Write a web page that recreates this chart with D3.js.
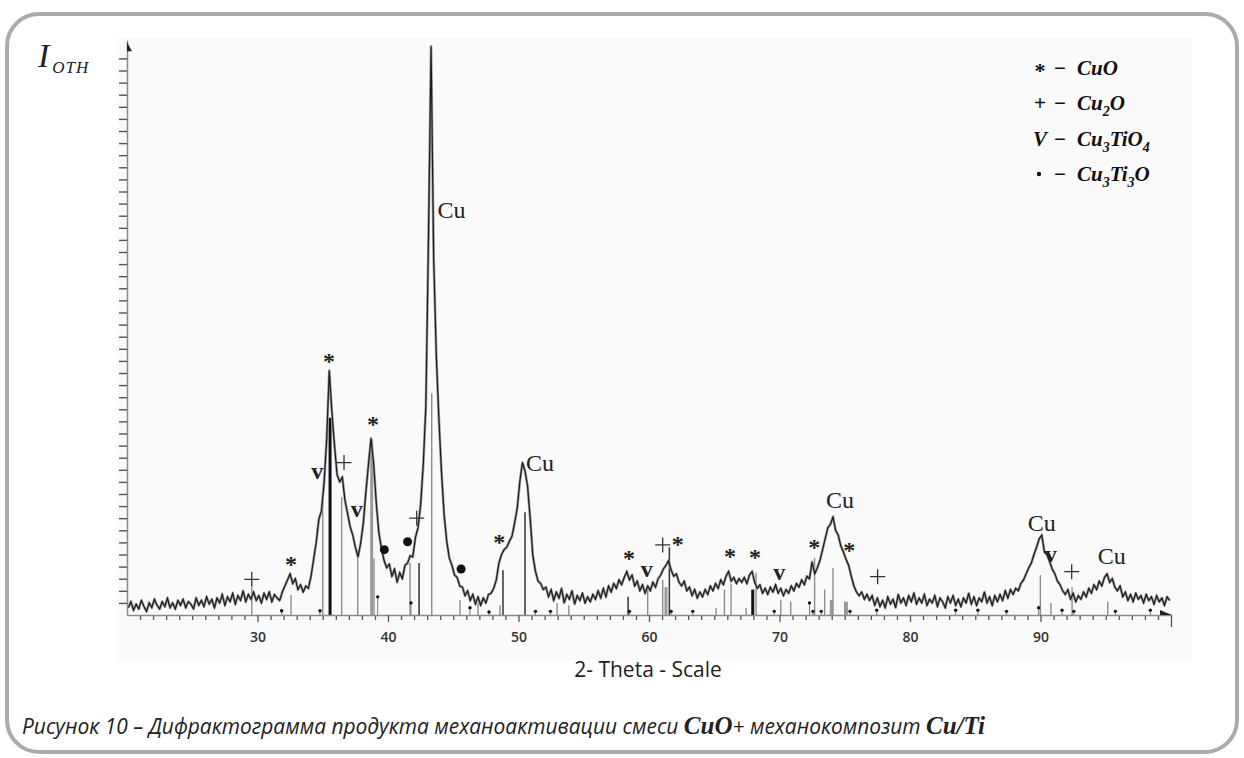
<!DOCTYPE html>
<html><head><meta charset="utf-8">
<script src="https://cdn.jsdelivr.net/npm/d3@7"></script>
<style>html,body{margin:0;padding:0;background:#fff;} svg{display:block;}</style>
</head><body>
<svg id="chart" width="1244" height="758"></svg>
<script>
// ---------- DATA ----------
const scanStart = 20.1, scanStep = 0.2;   // 2-theta scan, degrees
const intensity = [
// 20.1–29.9
0.6,1.1,0.4,0.9,0.5,1.2,0.7,0.3,1.0,0.6,
1.3,0.8,0.5,1.1,0.7,1.4,0.6,1.0,0.5,1.2,
0.8,1.3,0.6,1.1,0.9,0.5,1.4,0.8,1.2,0.7,
1.5,0.9,1.3,0.6,1.4,1.0,1.7,0.8,1.5,1.1,
1.8,0.9,1.6,1.2,2.0,1.1,1.7,1.3,1.9,1.2,
// 30.1–33.9
1.6,1.0,1.8,1.3,1.9,1.1,1.7,1.4,1.2,1.9,
2.4,2.9,3.4,2.6,3.0,2.1,2.5,1.9,2.4,2.2,
// 34.1–51.9
3.2,4.6,6.0,7.9,8.6,10.9,14.5,20.2,16.8,14.0,
11.6,11.0,11.4,9.5,8.4,7.3,6.6,5.6,4.8,5.9,
7.5,10.1,12.4,14.6,12.5,9.3,6.8,5.5,4.5,3.9,
4.2,3.2,3.8,2.7,3.5,3.0,4.1,4.3,4.9,4.8,
6.4,7.2,9.1,12.4,17.2,31.0,47.0,29.5,21.5,16.2,
11.8,8.3,6.1,4.7,4.1,3.3,3.1,2.4,2.3,1.6,
2.0,1.2,1.7,0.9,1.5,0.8,1.4,1.0,1.7,1.8,
2.2,2.9,4.3,5.0,5.4,5.6,6.1,6.5,7.6,8.8,
11.0,12.6,11.9,10.6,7.9,4.9,3.6,2.8,2.6,2.1,
// 52.1–57.9
2.3,1.5,2.1,1.2,1.9,1.4,2.2,1.0,1.7,1.3,
2.0,0.9,1.6,1.2,1.8,1.0,1.5,1.1,1.7,1.3,
2.0,1.4,2.2,1.5,2.4,1.9,2.6,2.2,2.9,2.5,
// 58.1–60.9
3.1,3.6,2.9,3.3,2.4,2.8,2.0,2.5,1.8,2.4,2.0,2.7,2.3,3.0,3.3,
// 61.1–64.9
3.8,4.1,4.5,3.7,3.2,3.4,2.7,2.4,2.8,2.0,
2.3,1.6,2.1,1.4,1.9,1.5,2.1,1.7,2.4,2.0,
// 65.1–68.9
2.6,2.2,2.9,2.5,3.2,3.6,2.8,3.1,2.6,3.0,
2.7,3.1,2.6,3.3,3.6,2.7,2.2,2.5,1.8,2.2,
// 69.1–72.9
1.7,2.3,1.9,2.5,1.8,2.2,1.6,2.1,1.8,2.4,
2.0,2.6,2.3,2.9,2.5,3.2,3.0,4.4,3.4,3.9,
// 73.1–76.9
4.5,5.4,6.3,7.2,7.5,8.1,7.0,6.6,5.7,5.2,
4.6,4.1,3.2,2.4,1.9,1.6,1.9,1.3,1.7,1.2,
// 77.1–87.9
1.6,0.8,1.4,0.7,1.2,0.6,1.5,0.9,1.3,0.6,
1.7,1.0,1.4,0.8,1.6,1.1,1.8,0.9,1.4,1.0,
1.7,0.8,1.3,1.0,1.6,0.7,1.4,1.1,0.6,1.5,
1.0,1.6,0.8,1.3,0.7,1.4,1.0,1.8,0.9,1.5,
0.8,1.4,1.1,1.9,1.0,1.5,0.8,1.6,1.1,1.7,
1.2,2.0,1.4,2.1,1.7,
// 88.1–92.9
2.2,2.0,2.6,2.9,3.4,3.9,4.3,5.0,5.6,6.3,
6.6,5.2,5.0,4.4,3.8,3.4,2.8,2.5,2.0,1.7,
2.1,1.3,1.8,1.1,1.6,
// 93.1–99.9
1.3,1.9,1.5,2.2,1.8,2.5,2.1,2.8,2.4,3.1,
3.4,2.7,3.0,2.3,2.0,2.4,1.5,1.9,1.2,1.7,
1.1,1.8,1.3,1.6,1.0,1.7,1.2,1.5,0.9,1.6,
1.1,1.4,0.8,1.5,1.2
];

// reference (stick) pattern: position, height, kind (g gray, G gray bold, b black, B black bold, d dotted)
const stickTheta  = [29.56,31.85,32.57,34.79,35.0,35.56,36.45,37.68,38.75,38.93,39.21,41.69,41.76,42.38,43.35,45.52,46.28,46.9,47.74,48.58,48.81,50.5,
                     51.3,52.45,52.96,53.86,58.4,58.5,59.9,61.05,61.3,61.56,61.7,63.35,65.14,65.78,66.29,67.44,67.95,68.2,69.6,70.1,70.86,72.3,72.56,72.69,73.2,73.46,73.97,74.1,75.0,75.13,75.4,77.45,
                     83.5,85.2,87.4,89.86,89.99,90.8,91.65,92.42,92.55,95.15,95.74,98.42];
const stickHeight = [2.3,0.35,1.65,0.35,9.3,16.3,9.75,5.1,14.5,4.7,1.5,4.3,1.0,4.3,18.3,1.24,0.6,1.0,0.25,0.8,3.7,8.5,
                     0.3,0.3,1.0,0.8,1.5,0.3,2.3,2.9,2.3,5.6,0.3,0.3,0.6,2.1,2.6,0.6,2.1,3.5,0.3,1.24,1.1,1.0,0.3,4.7,0.3,2.1,1.24,3.9,1.1,1.1,0.3,0.4,
                     0.4,0.4,0.3,0.6,3.3,1.0,0.4,2.3,0.3,1.1,0.3,0.4];
const stickKind   = ["g","d","g","d","g","B","g","g","G","g","d","g","d","b","g","g","d","g","d","g","b","b",
                     "d","d","g","g","b","d","g","g","G","b","d","d","g","g","g","g","B","g","d","g","g","d","d","g","d","g","G","g","g","G","d","d",
                     "d","d","d","d","g","g","d","g","d","g","d","d"];

// phase labels on peaks
const labelTheta  = [29.56,32.57,34.57,35.48,36.63,37.6,38.85,39.72,41.5,42.2,44.87,45.6,48.53,51.65,58.47,59.82,61.05,62.2,66.21,68.12,69.98,72.67,74.64,75.35,77.52,90.09,90.78,92.39,95.46];
const labelLevel  = [2.95,4.5,11.65,21.2,12.6,8.55,16.0,5.4,6.05,8.0,33.5,3.8,6.3,12.55,4.96,3.58,5.79,6.12,5.1,5.04,3.3,5.87,9.5,5.64,3.17,7.58,4.77,3.58,4.88];
const labelSymbol = ["+","*","v","*","+","v","*","●","●","+","Cu","●","*","Cu","*","v","+","*","*","*","v","*","Cu","*","+","Cu","v","+","Cu"];

const xTickValues = [30,40,50,60,70,80,90];
const legendSymbols  = ["*","+","V","·"];
const legendFormulas = [
  [["CuO",0]],
  [["Cu",0],["2",1],["O",0]],
  [["Cu",0],["3",1],["TiO",0],["4",1]],
  [["Cu",0],["3",1],["Ti",0],["3",1],["O",0]]
];
const xTitle = "2- Theta - Scale";
const captionParts = [
  ["Рисунок 10 – Дифрактограмма продукта механоактивации смеси ","sans"],
  ["CuO","serif"],
  ["+ механокомпозит ","sans"],
  ["Cu/Ti","serif"]
];

// ---------- DRAW ----------
const svg = d3.select("#chart");
const SERIF = "'Liberation Serif','Times New Roman',serif";
const SANS  = "'Open Sans','Noto Sans',sans-serif";

svg.append("rect").attr("x",7).attr("y",14).attr("width",1230).attr("height",738).attr("rx",32)
  .attr("fill","#fff").attr("stroke","#a9abae").attr("stroke-width",4);
svg.append("rect").attr("x",117).attr("y",38).attr("width",1075).attr("height",622).attr("fill","#fafafa");

const x = d3.scaleLinear().domain([20,100]).range([127,1171]);
const y = d3.scaleLinear().domain([0,47.5]).range([615,40.25]);

// sticks
const sticks = stickTheta.map((t,i)=>({t, h:stickHeight[i], k:stickKind[i]}));
const stickStyle = {g:{c:"#8d8d8d",w:1.4}, G:{c:"#9a9a9a",w:3}, b:{c:"#333",w:1.5}, B:{c:"#111",w:3}, d:{c:"#777",w:1}};
svg.append("g").selectAll("line").data(sticks).join("line")
  .attr("x1",d=>x(d.t)).attr("x2",d=>x(d.t)).attr("y1",y(0)).attr("y2",d=>y(d.h))
  .attr("stroke",d=>stickStyle[d.k].c).attr("stroke-width",d=>stickStyle[d.k].w);
svg.append("g").selectAll("circle").data(sticks.filter(d=>d.k==="d")).join("circle")
  .attr("cx",d=>x(d.t)).attr("cy",d=>y(d.h)).attr("r",1.7).attr("fill","#111");

// scan
const scan = intensity.map((v,i)=>({t: scanStart + i*scanStep, v}));
const scanLine = d3.line().x(d=>x(d.t)).y(d=>y(d.v));
svg.append("path").datum(scan).attr("d", scanLine)
  .attr("fill","none").attr("stroke","#9a9a9a").attr("stroke-width",2.6).attr("stroke-linejoin","round");
svg.append("path").datum(scan).attr("d", scanLine)
  .attr("fill","none").attr("stroke","#1c1c1c").attr("stroke-width",1.2);

// y axis
const gy = svg.append("g").attr("transform",`translate(${x(20)},0)`)
  .call(d3.axisLeft(y).tickValues(d3.range(1,47)).tickSize(8).tickSizeOuter(0).tickFormat(""));
gy.select(".domain").attr("stroke","#8a8a8a").attr("stroke-width",1.5);
gy.selectAll(".tick line").attr("stroke","#555").attr("stroke-width",1.4);

// x axis
const gxm = svg.append("g").attr("transform",`translate(0,${y(0)})`)
  .call(d3.axisBottom(x).tickValues(d3.range(21,100).filter(v=>v%10!==0)).tickSize(5).tickSizeOuter(0).tickFormat(""));
gxm.select(".domain").remove();
const gxe = svg.append("g").attr("transform",`translate(0,${y(0)})`)
  .call(d3.axisBottom(x).tickValues([100]).tickSize(12).tickSizeOuter(0).tickFormat(""));
gxe.select(".domain").remove();
const gx = svg.append("g").attr("transform",`translate(0,${y(0)})`)
  .call(d3.axisBottom(x).tickValues(xTickValues).tickSize(7).tickSizeOuter(0).tickPadding(10).tickFormat(d3.format("d")));
gx.select(".domain").attr("stroke","#8a8a8a").attr("stroke-width",1.5);
[gxm,gxe,gx].forEach(g=>g.selectAll(".tick line").attr("stroke","#555").attr("stroke-width",1.3));
gx.selectAll(".tick text").attr("font-family",SANS).attr("font-size",14).attr("font-weight",600).attr("fill","#333");

// arrows
svg.append("path").attr("d",`M${x(20)},${y(47.5)+2} L${x(20)+5},${y(47.5)+11} L${x(20)},${y(47.5)+11} Z`).attr("fill","#222");
svg.append("path").attr("d",`M${x(100)+1},${y(0)} L${x(100)-11},${y(0)-5} L${x(100)-11},${y(0)} Z`).attr("fill","#222");

// peak labels
const symStyle = {
  "*": {size:24, weight:"bold", off:11, fill:"#222"},
  "v": {size:24, weight:"bold", off:5, fill:"#222"},
  "Cu":{size:24, weight:"normal", off:8, fill:"#222"}
};
const labels = labelTheta.map((t,i)=>({t, v:labelLevel[i], s:labelSymbol[i]}));
const gl = svg.append("g");
gl.selectAll("text").data(labels.filter(d=>symStyle[d.s])).join("text")
  .attr("x",d=>x(d.t)).attr("y",d=>y(d.v)+symStyle[d.s].off)
  .attr("text-anchor","middle").attr("font-family",SERIF)
  .attr("font-size",d=>symStyle[d.s].size).attr("font-weight",d=>symStyle[d.s].weight)
  .attr("fill",d=>symStyle[d.s].fill).text(d=>d.s);
gl.selectAll("circle").data(labels.filter(d=>d.s==="●")).join("circle")
  .attr("cx",d=>x(d.t)).attr("cy",d=>y(d.v)).attr("r",4.5).attr("fill","#111");
gl.selectAll("path.plus").data(labels.filter(d=>d.s==="+")).join("path").attr("class","plus")
  .attr("d",d=>{const cx=x(d.t), cy=y(d.v); return `M${cx-7.5},${cy}H${cx+7.5}M${cx},${cy-7.5}V${cx+0*0+0 || 0}`;})
  .attr("d",d=>{const cx=x(d.t), cy=y(d.v); return `M${cx-7.5},${cy}H${cx+7.5}M${cx},${cy-7.5}V${cy+7.5}`;})
  .attr("stroke","#333").attr("stroke-width",1.3).attr("fill","none");

// y label
const yl = svg.append("text").attr("x",38).attr("y",67).attr("font-family",SERIF).attr("font-style","italic").attr("fill","#222");
yl.append("tspan").attr("font-size",34).text("I");
yl.append("tspan").attr("font-size",17).attr("dx",3).attr("dy",6).attr("letter-spacing",1).text("OTH");

// legend
const legendRowY = [68,103,139,174];
const lg = svg.append("g").attr("font-family",SERIF).attr("font-weight","bold").attr("font-style","italic").attr("fill","#111");
legendSymbols.forEach((s,i)=>{
  const cy = legendRowY[i];
  if (s==="·") {
    lg.append("circle").attr("cx",1039).attr("cy",cy).attr("r",2.2).attr("fill","#111");
  } else if (s==="*") {
    lg.append("text").attr("x",1040).attr("y",cy+10).attr("text-anchor","middle").attr("font-size",22).attr("font-style","normal").text(s);
  } else {
    lg.append("text").attr("x",1040).attr("y",cy+7).attr("text-anchor","middle").attr("font-size",21).attr("font-style",s==="+"?"normal":"italic").text(s);
  }
  lg.append("text").attr("x",1060).attr("y",cy+7).attr("text-anchor","middle").attr("font-size",21).attr("font-style","normal").text("−");
  const t = lg.append("text").attr("x",1077).attr("y",cy+7).attr("font-size",21);
  let sub = false;
  legendFormulas[i].forEach(([str,isSub])=>{
    const ts = t.append("tspan").text(str);
    if (isSub && !sub) { ts.attr("dy",6).attr("font-size",14); sub=true; }
    else if (isSub) { ts.attr("font-size",14); }
    else if (!isSub && sub) { ts.attr("dy",-6); sub=false; }
  });
});

// x title
svg.append("text").attr("x",648).attr("y",677).attr("text-anchor","middle")
  .attr("font-family",SANS).attr("font-size",21).attr("fill","#222").text(xTitle);

// caption
const cap = svg.append("text").attr("x",22).attr("y",734).attr("fill","#222");
const capSpans = captionParts.map(([str,kind])=>{
  const ts = cap.append("tspan").text(str);
  if (kind==="sans") ts.attr("font-family",SANS).attr("font-style","italic").attr("font-size",20);
  else ts.attr("font-family",SERIF).attr("font-style","italic").attr("font-weight","bold").attr("font-size",25);
  return [ts,kind];
});
// fit caption width to target
const target = 963;
let fs = 20;
for (let k=0;k<4;k++){
  const w = cap.node().getComputedTextLength();
  let serifW = 0;
  capSpans.forEach(([ts,kind])=>{ if(kind==="serif") serifW += ts.node().getComputedTextLength(); });
  const sansW = w - serifW;
  fs = fs * (target - serifW) / sansW;
  capSpans.forEach(([ts,kind])=>{ if(kind==="sans") ts.attr("font-size",fs); });
}
</script>
</body></html>
